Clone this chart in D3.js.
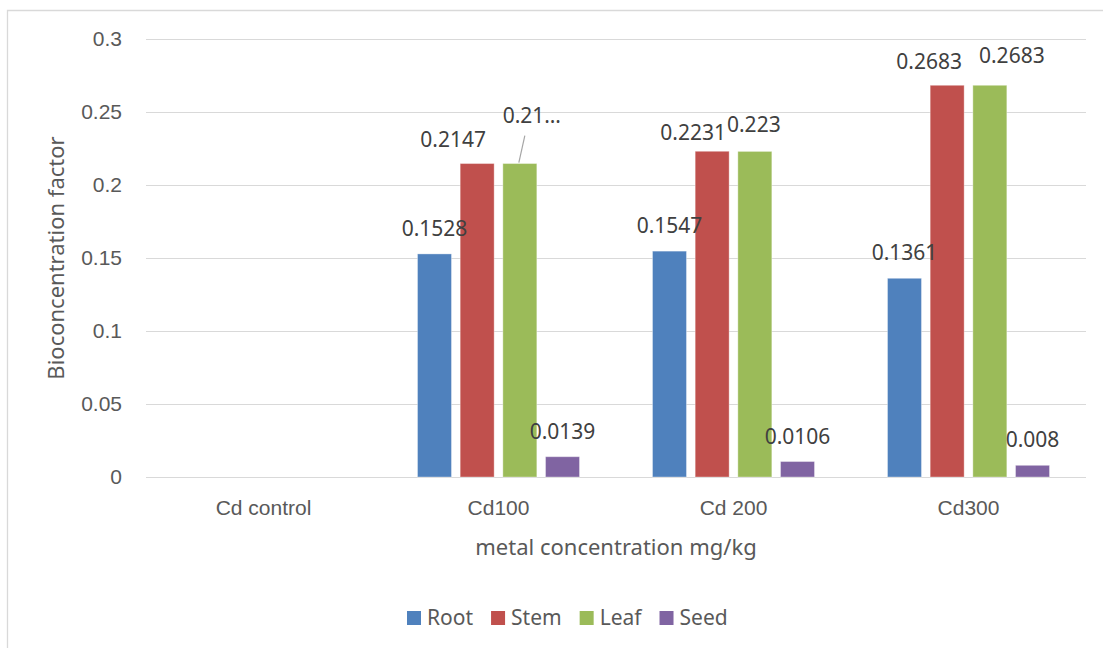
<!DOCTYPE html>
<html>
<head>
<meta charset="utf-8">
<script src="https://cdn.jsdelivr.net/npm/d3@7"></script>
<style>
  body { margin: 0; background: #fff; }
  svg { font-family: "Noto Sans", "Open Sans", sans-serif; }
  .grid line { stroke: #d9d9d9; stroke-width: 1.2; }
  .grid text { fill: #595959; font-size: 21px; }
  .xaxis text { fill: #595959; font-size: 21px; }
  .lbl { fill: #404040; font-size: 21px; text-anchor: middle; }
</style>
</head>
<body>
<div id="chart"></div>
<script>
// data
var categories = ["Cd control", "Cd100", "Cd 200", "Cd300"];
var seriesNames = ["Root", "Stem", "Leaf", "Seed"];
var colors = ["#4f81bd", "#c0504d", "#9bbb59", "#8064a2"];
var root = [null, 0.1528, 0.1547, 0.1361];
var stem = [null, 0.2147, 0.2231, 0.2683];
var leaf = [null, 0.2147, 0.223, 0.2683];
var seed = [null, 0.0139, 0.0106, 0.008];
var yTicks = [0, 0.05, 0.1, 0.15, 0.2, 0.25, 0.3];

// label text Excel shortened, and nudges for overlapping labels
var labelText = { "Leaf|Cd100": "0.21\u2026" };
var labelNudge = {
    "Stem|Cd100": [-24, 1], "Leaf|Cd100": [12, -23],
    "Stem|Cd 200": [-19, 7], "Leaf|Cd 200": [-1, -1],
    "Stem|Cd300": [-18, 2], "Leaf|Cd300": [22, -4]
};

function init() {
    var w = 1103, h = 648;
    var left = 146, right = 1086, top = 39, bottom = 477;

    var values = [root, stem, leaf, seed];
    var rows = [];
    seriesNames.forEach(function(s, i) {
        categories.forEach(function(c, j) {
            rows.push({ series: s, cat: c, value: values[i][j], color: colors[i] });
        });
    });

    var svg = d3.select("#chart").append("svg")
        .attr("width", w).attr("height", h);

    // chart frame (only left and top edges are in view)
    svg.append("path")
        .attr("d", "M7.5," + h + "V10.5H" + w)
        .attr("fill", "none").attr("stroke", "#d9d9d9").attr("stroke-width", 1.3);

    var x0 = d3.scaleBand().domain(categories).range([left, right]);
    var groupW = 162;
    var x1 = d3.scaleBand().domain(seriesNames)
        .range([(x0.bandwidth() - groupW) / 2, (x0.bandwidth() + groupW) / 2])
        .paddingInner(0.204);
    var y = d3.scaleLinear().domain([0, 0.3]).range([bottom, top]);

    // y axis + gridlines
    var yAxis = d3.axisLeft(y).tickValues(yTicks)
        .tickSize(-(right - left)).tickPadding(24)
        .tickFormat(function(d) { return String(d); });
    svg.append("g").attr("class", "grid")
        .attr("transform", "translate(" + left + ",0)")
        .call(yAxis)
        .call(function(g) { g.select(".domain").remove(); });

    // x axis labels
    var xAxis = d3.axisBottom(x0).tickSize(0).tickPadding(23);
    svg.append("g").attr("class", "xaxis")
        .attr("transform", "translate(0," + bottom + ")")
        .call(xAxis)
        .call(function(g) { g.select(".domain").remove(); });

    // bars
    var bars = rows.filter(function(d) { return d.value != null; });
    svg.append("g").selectAll("rect").data(bars).enter().append("rect")
        .attr("x", function(d) { return x0(d.cat) + x1(d.series); })
        .attr("y", function(d) { return y(d.value); })
        .attr("width", x1.bandwidth())
        .attr("height", function(d) { return y(0) - y(d.value); })
        .attr("fill", function(d) { return d.color; })
        .attr("stroke", "#fff").attr("stroke-opacity", 0.35).attr("stroke-width", 1);

    // data labels
    function pos(d) {
        var n = labelNudge[d.series + "|" + d.cat] || [0, 0];
        return [x0(d.cat) + x1(d.series) + x1.bandwidth() / 2 + n[0], y(d.value) - 18 + n[1]];
    }
    svg.append("g").selectAll("text").data(bars).enter().append("text")
        .attr("class", "lbl")
        .attr("x", function(d) { return pos(d)[0]; })
        .attr("y", function(d) { return pos(d)[1]; })
        .text(function(d) { return labelText[d.series + "|" + d.cat] || String(d.value); });

    // leader line for the moved label
    var lead = bars.filter(function(d) { return d.series == "Leaf" && d.cat == "Cd100"; })[0];
    var lp = pos(lead);
    svg.append("line")
        .attr("x1", lp[0] - 7).attr("y1", lp[1] + 13)
        .attr("x2", x0(lead.cat) + x1(lead.series) + x1.bandwidth() / 2 - 1)
        .attr("y2", y(lead.value) - 1)
        .attr("stroke", "#a6a6a6").attr("stroke-width", 1.2);

    // axis titles
    svg.append("text")
        .attr("x", (left + right) / 2).attr("y", 555)
        .attr("text-anchor", "middle").attr("fill", "#595959")
        .style("font-size", "22px")
        .text("metal concentration mg/kg");
    svg.append("text")
        .attr("transform", "translate(64," + ((top + bottom) / 2) + ") rotate(-90)")
        .attr("text-anchor", "middle").attr("fill", "#595959")
        .style("font-size", "22px")
        .text("Bioconcentration factor");

    // legend
    var legend = svg.append("g").attr("transform", "translate(407,0)");
    var lx = 0;
    seriesNames.forEach(function(s, i) {
        var g = legend.append("g").attr("transform", "translate(" + lx + ",0)");
        g.append("rect").attr("x", 0).attr("y", 611).attr("width", 14).attr("height", 14)
            .attr("fill", colors[i]);
        var t = g.append("text").attr("x", 20).attr("y", 625)
            .attr("fill", "#595959").style("font-size", "21px").text(s);
        lx += 20 + t.node().getComputedTextLength() + 18;
    });
}
window.onload = init;
</script>
</body>
</html>
